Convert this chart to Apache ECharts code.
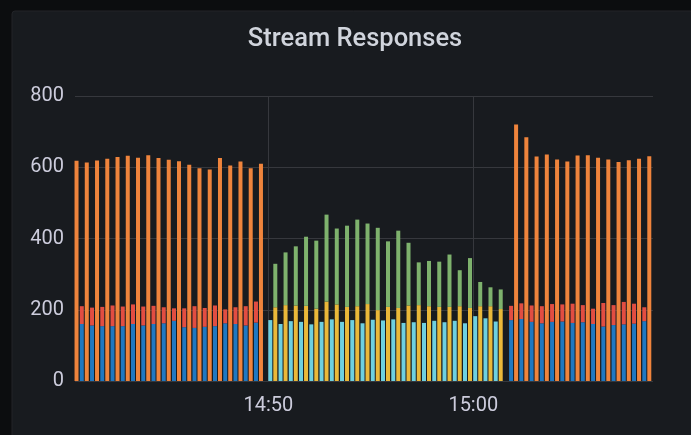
<!DOCTYPE html>
<html>
<head>
<meta charset="utf-8">
<title>Stream Responses</title>
<script src="https://cdn.jsdelivr.net/npm/echarts@6/dist/echarts.min.js"></script>
<style>
  html, body { margin: 0; padding: 0; background: #0c0d0f; }
  #chart { width: 691px; height: 435px; }
</style>
</head>
<body>
<div id="chart"></div>
<script>
// times are seconds since midnight, one sample every 30s
// (bars on a time axis start at their timestamp, the pair sits to its right)
const step = 30
const leftStart = 14 * 3600 + 40 * 60 + 31
const midStart = 14 * 3600 + 50 * 60 + 13
const rightStart = 15 * 3600 + 1 * 60 + 58
const xMin = 14 * 3600 + 40 * 60 + 47
// echarts widens a time axis with bars by the bar overflow, so this lands near 15:08:59
const xMax = 15 * 3600 + 8 * 60 + 33

// first block (blue + red stacked, orange beside); first blue/red is off the chart
const leftBlue = [null, 160, 156, 154, 154, 154, 160, 156, 160, 162, 169, 151, 149, 152, 154, 162, 160, 156, 164]
const leftRed = [null, 50, 50, 54, 58, 55, 55, 53, 51, 45, 35, 53, 61, 53, 58, 39, 47, 54, 59]
const leftOrange = [618, 613, 619, 624, 629, 632, 627, 634, 626, 621, 617, 607, 597, 594, 626, 605, 616, 597, 610]

// middle block (cyan, yellow + green stacked)
const midCyan = [171, 160, 168, 166, 159, 166, 173, 166, 171, 162, 172, 170, 173, 163, 165, 163, 169, 165, 169, 162, 182, 176, 167]
const midYellow = [207, 213, 212, 211, 203, 223, 215, 208, 210, 216, 199, 208, 205, 212, 213, 210, 208, 208, 210, 205, 210, 210, 202]
const midGreen = [122, 148, 166, 194, 191, 244, 213, 228, 243, 226, 231, 184, 217, 176, 120, 127, 127, 147, 101, 140, 68, 53, 55]

// last block
const rightBlue = [171, 174, 166, 162, 166, 167, 163, 165, 160, 153, 157, 159, 161, 168]
const rightRed = [40, 44, 46, 48, 50, 48, 54, 48, 43, 66, 56, 63, 56, 39]
const rightOrange = [720, 684, 630, 636, 622, 616, 633, 634, 627, 622, 615, 620, 624, 631]

const yTicks = [0, 200, 400, 600, 800]
const xTicks = ['14:50', '15:00']

const day = new Date(2021, 4, 10, 0, 0, 0).getTime()
const toMs = s => day + s * 1000
const hhmmToMs = t => toMs(+t.split(':')[0] * 3600 + +t.split(':')[1] * 60)

const blocks = [
    { start: leftStart, n: leftOrange.length },
    { start: midStart, n: midCyan.length },
    { start: rightStart, n: rightOrange.length }
]

// same x list for every series so stacking lines up by index
const allTimes = []
blocks.forEach(b => {
    for (let i = 0; i < b.n; i++) allTimes.push(toMs(b.start + i * step))
})

function build (parts) {
    let out = []
    blocks.forEach((b, k) => {
        for (let i = 0; i < b.n; i++) {
            out.push([allTimes[out.length], parts[k] ? parts[k][i] : null])
        }
    })
    return out
}

const pad = v => v < 10 ? '0' + v : '' + v

const textColor = '#ccccdc'
const gridColor = '#36383d'

function bar (name, color, stack, parts) {
    return {
        name: name,
        type: 'bar',
        stack: stack,
        barWidth: 4,
        barGap: '25%',
        itemStyle: { color: color },
        emphasis: { disabled: true },
        data: build(parts)
    }
}

const option = {
    animation: false,
    backgroundColor: '#0c0d0f',
    graphic: [
        {
            type: 'rect',
            z: -10,
            shape: { x: 12, y: 11, width: 720, height: 460, r: 3 },
            style: { fill: '#181b1f', stroke: '#222428', lineWidth: 1 }
        },
        {
            type: 'text',
            z: 10,
            x: 355,
            y: 40,
            style: {
                text: 'Stream Responses',
                fill: '#d0d4dc',
                font: '500 25.5px Roboto',
                align: 'center',
                verticalAlign: 'middle'
            }
        }
    ],
    grid: {
        left: 75,
        right: 38,
        top: 96,
        bottom: 54
    },
    xAxis: {
        type: 'time',
        min: toMs(xMin),
        max: toMs(xMax),
        axisLine: { show: false },
        axisTick: { show: false },
        axisLabel: {
            color: textColor,
            fontFamily: 'Roboto',
            fontSize: 20,
            margin: 15,
            showMinLabel: false,
            showMaxLabel: false,
            formatter: function (v) {
                const d = new Date(v)
                const s = pad(d.getHours()) + ':' + pad(d.getMinutes())
                return d.getSeconds() === 0 && xTicks.indexOf(s) >= 0 ? s : ''
            }
        },
        splitLine: { show: false }
    },
    yAxis: {
        type: 'value',
        min: yTicks[0],
        max: yTicks[yTicks.length - 1],
        interval: 200,
        axisLine: { show: false },
        axisTick: { show: false },
        axisLabel: {
            color: textColor,
            fontFamily: 'Roboto',
            fontSize: 20,
            margin: 11
        },
        splitLine: {
            lineStyle: { color: gridColor, width: 1 }
        }
    },
    series: [
        bar('blue', '#1f78c1', 'a', [leftBlue, null, rightBlue]),
        bar('red', '#e24d42', 'a', [leftRed, null, rightRed]),
        bar('cyan', '#6ed0e0', 'a', [null, midCyan, null]),
        bar('orange', '#ef843c', 'b', [leftOrange, null, rightOrange]),
        bar('yellow', '#eab839', 'b', [null, midYellow, null]),
        bar('green', '#7eb26d', 'b', [null, midGreen, null]),
        {
            // vertical grid lines at the labelled times only
            type: 'line',
            data: [],
            z: 1,
            silent: true,
            markLine: {
                z: 1,
                silent: true,
                symbol: 'none',
                label: { show: false },
                lineStyle: { color: gridColor, width: 1, type: 'solid' },
                data: xTicks.map(t => ({ xAxis: hhmmToMs(t) }))
            }
        }
    ]
}

let myChart = echarts.init(document.getElementById('chart'))
myChart.setOption(option)
</script>
</body>
</html>
